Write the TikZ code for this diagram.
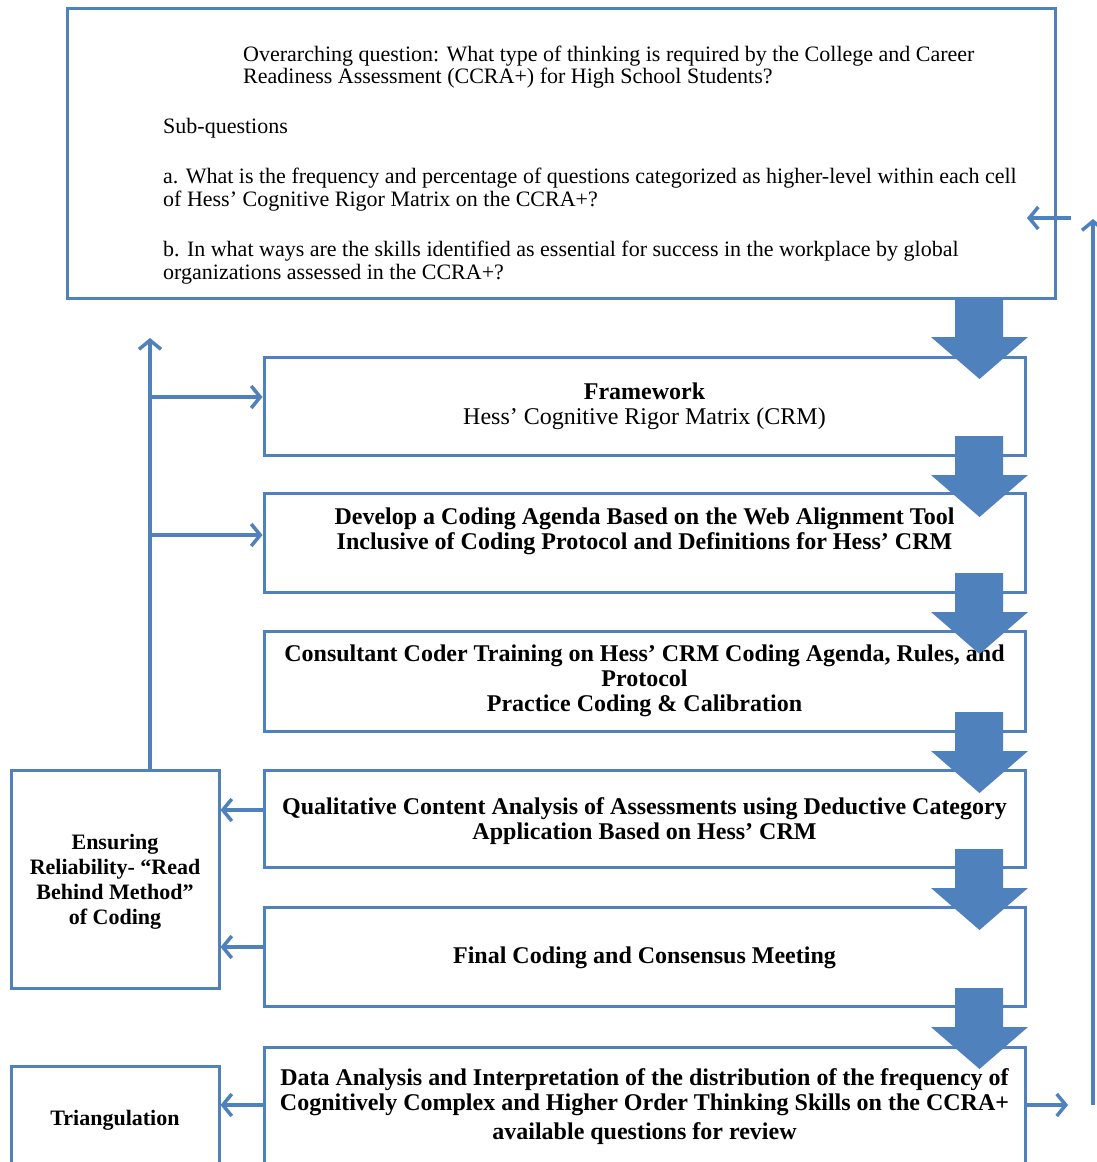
\documentclass[tikz,border=0pt]{standalone}
\usepackage{fontspec}
\setmainfont{Liberation Serif}
\usetikzlibrary{arrows.meta}
\definecolor{obl}{HTML}{4F81BD}
\begin{document}
\begin{tikzpicture}[x=1pt,y=-1pt,
  box/.style={draw=obl, line width=3pt, inner sep=0pt},
  stepbox/.style={box, minimum width=761pt},
  steptext/.style={inner sep=0pt, align=center, font=\fontsize{24}{25}\selectfont\bfseries},
  sidetext/.style={inner sep=0pt, align=center, font=\fontsize{22}{25}\selectfont\bfseries},
  thinarrow/.style={draw=obl, line width=3.5pt, -{Straight Barb[length=9pt,width=22pt]}},
  toptext/.style={anchor=base west, inner sep=0pt, font=\fontsize{22}{22}\selectfont}
]
\useasboundingbox (0,0) rectangle (1096,1162);
\fill[white] (0,0) rectangle (1096,1162);

% top box
\node[box, minimum width=988pt, minimum height=290pt] (top) at (561,153) {};
\node[toptext] (t1) at (243,61) {Overarching question: What type of thinking is required by the College and Career};
\node[toptext] (t2) at (243,83) {Readiness Assessment (CCRA+) for High School Students?};
\node[toptext] (t3) at (163,133) {Sub-questions};
\node[toptext] (t4) at (163,183) {a. What is the frequency and percentage of questions categorized as higher-level within each cell};
\node[toptext] (t5) at (163,206) {of Hess’ Cognitive Rigor Matrix on the CCRA+?};
\node[toptext] (t6) at (163,256) {b. In what ways are the skills identified as essential for success in the workplace by global};
\node[toptext] (t7) at (163,279) {organizations assessed in the CCRA+?};

% step boxes
\node[stepbox, minimum height=98pt] (fw) at (644.5,406) {};
\node[steptext] (fwt) at (644.5,406) {Framework\\{\mdseries Hess’ Cognitive Rigor Matrix (CRM)}};
\node[stepbox, minimum height=99pt] (dev) at (644.5,542.5) {};
\node[steptext] (devt) at (644.5,531) {Develop a Coding Agenda Based on the Web Alignment Tool\\Inclusive of Coding Protocol and Definitions for Hess’ CRM};
\node[stepbox, minimum height=100pt] (con) at (644.5,681) {};
\node[steptext] (cont) at (644.5,681) {Consultant Coder Training on Hess’ CRM Coding Agenda, Rules, and\\Protocol\\Practice Coding \& Calibration};
\node[stepbox, minimum height=97pt] (qual) at (644.5,818.5) {};
\node[steptext] (qualt) at (644.5,821) {Qualitative Content Analysis of Assessments using Deductive Category\\Application Based on Hess’ CRM};
\node[stepbox, minimum height=99pt] (fin) at (644.5,956.5) {};
\node[steptext] (fint) at (644.5,958) {Final Coding and Consensus Meeting};
\node[stepbox, minimum height=130pt] (data) at (644.5,1112) {};
\node[steptext] (datat) at (644.5,1107) {Data Analysis and Interpretation of the distribution of the frequency of\\Cognitively Complex and Higher Order Thinking Skills on the CCRA+\\[4pt]available questions for review};

% side boxes
\node[box, minimum width=208pt, minimum height=218pt] (ens) at (115,879) {};
\node[sidetext] (enst) at (115,882) {Ensuring\\Reliability- “Read\\Behind Method”\\of Coding};
\node[box, minimum width=208pt, minimum height=108pt] (tri) at (115,1120) {};
\node[sidetext] (trit) at (115,1120) {Triangulation};

% thin connectors
\coordinate (lt) at (150,338);
\coordinate (b1) at (150,397);
\coordinate (b2) at (150,535);
\draw[thinarrow] (ens.north -| b1) -- (lt);
\draw[thinarrow] (b1) -- (fw.west |- b1);
\draw[thinarrow] (b2) -- (dev.west |- b2);
\coordinate (q1) at (219,810);
\coordinate (f1) at (219,947);
\coordinate (d1) at (219,1105);
\draw[thinarrow] (qual.west |- q1) -- (ens.east |- q1);
\draw[thinarrow] (fin.west |- f1) -- (ens.east |- f1);
\draw[thinarrow] (data.west |- d1) -- (tri.east |- d1);
\coordinate (dr) at (1068,1105);
\draw[thinarrow] (data.east |- dr) -- (dr);
\coordinate (rb) at (1093,1105);
\coordinate (rt) at (1093,219);
\draw[thinarrow] (rb) -- (rt);
\coordinate (la) at (1071,218);
\coordinate (lb) at (1027,218);
\draw[thinarrow] (la) -- (lb);

% block arrows
\foreach \y in {298,436,573,712,849,988}
  \fill[obl] (955,\y) -- (1003,\y) -- (1003,\y+39) -- (1028,\y+39) -- (979.5,\y+81) -- (931,\y+39) -- (955,\y+39) -- cycle;
\end{tikzpicture}
\end{document}
